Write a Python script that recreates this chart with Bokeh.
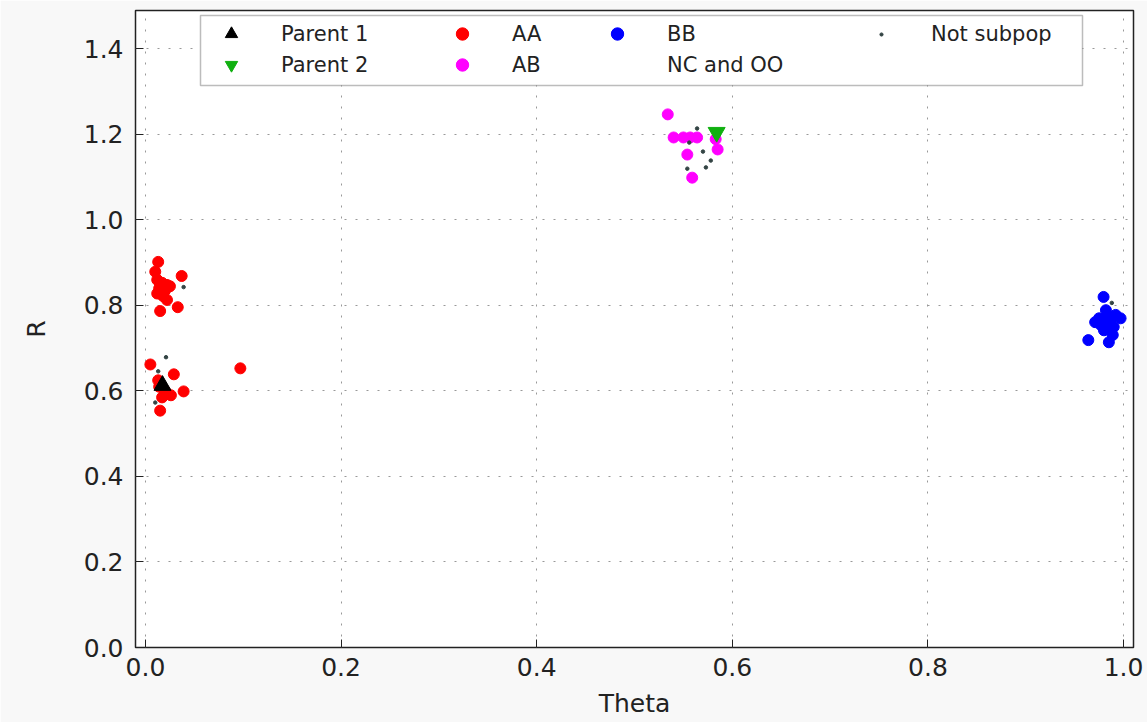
from bokeh.plotting import figure
from bokeh.models import (Legend, LegendItem, FixedTicker, PrintfTickFormatter,
                          Range1d, BoxAnnotation)
from bokeh.embed import file_html
from bokeh.resources import INLINE

# ---- data ----
parent1_theta = [0.0174]
parent1_r = [0.613]
parent2_theta = [0.584]
parent2_r = [1.205]

aa_theta = [0.013, 0.010, 0.037, 0.012, 0.017, 0.022, 0.014, 0.020, 0.012, 0.018, 0.022, 0.033, 0.015, 0.025,
            0.005, 0.097, 0.029, 0.013, 0.039, 0.026, 0.017, 0.015, 0.020, 0.014]
aa_r = [0.902, 0.879, 0.869, 0.860, 0.853, 0.848, 0.840, 0.835, 0.828, 0.822, 0.813, 0.796, 0.787, 0.845,
        0.662, 0.653, 0.639, 0.625, 0.599, 0.590, 0.585, 0.554, 0.600, 0.610]

ab_theta = [0.534, 0.540, 0.550, 0.557, 0.564, 0.583, 0.585, 0.554, 0.559]
ab_r = [1.247, 1.193, 1.193, 1.193, 1.193, 1.189, 1.165, 1.153, 1.099]

bb_theta = [0.9796, 0.964, 0.982, 0.987, 0.977, 0.992, 0.989, 0.985, 0.997, 0.971, 0.980, 0.985, 0.975, 0.990, 0.983]
bb_r = [0.820, 0.719, 0.789, 0.766, 0.754, 0.778, 0.731, 0.714, 0.770, 0.761, 0.742, 0.775, 0.770, 0.750, 0.757]

nc_theta = []
nc_r = []

ns_theta = [0.039, 0.021, 0.013, 0.010, 0.564, 0.556, 0.570, 0.578, 0.573, 0.554, 0.988]
ns_r = [0.843, 0.679, 0.646, 0.573, 1.214, 1.181, 1.160, 1.139, 1.123, 1.120, 0.806]

x_ticks = [0.0, 0.2, 0.4, 0.6, 0.8, 1.0]
y_ticks = [0.0, 0.2, 0.4, 0.6, 0.8, 1.0, 1.2, 1.4]

FONT = "DejaVu Sans"
INK = "#222222"

p = figure(width=1147, height=722, output_backend="svg", toolbar_location=None,
           x_range=Range1d(-0.0102, 1.0102), y_range=Range1d(0.0, 1.49),
           min_border_left=135, min_border_right=14, min_border_top=10, min_border_bottom=75)
p.border_fill_color = "#f8f8f8"
p.background_fill_color = "white"
p.outline_line_color = INK
p.outline_line_width = 1.5

for ax, ticks in ((p.xaxis[0], x_ticks), (p.yaxis[0], y_ticks)):
    ax.ticker = FixedTicker(ticks=ticks)
    ax.formatter = PrintfTickFormatter(format="%.1f")
    ax.major_tick_in = 8
    ax.major_tick_out = 0
    ax.minor_tick_line_color = None
    ax.axis_line_color = None
    ax.major_tick_line_color = INK
    ax.major_label_text_font = FONT
    ax.major_label_text_font_size = "25px"
    ax.major_label_text_color = INK
    ax.axis_label_text_font = FONT
    ax.axis_label_text_font_size = "25px"
    ax.axis_label_text_font_style = "normal"
    ax.axis_label_text_color = INK

p.xaxis.axis_label = "Theta"
p.yaxis.axis_label = "R"
p.xaxis.major_label_standoff = 10
p.xaxis.axis_label_standoff = 10
p.yaxis.major_label_standoff = 12
p.yaxis.axis_label_standoff = 30

p.xgrid.ticker = FixedTicker(ticks=x_ticks)
p.ygrid.ticker = FixedTicker(ticks=y_ticks)
p.grid.grid_line_color = "#999999"
p.grid.grid_line_dash = "2 9"
p.grid.grid_line_width = 1

r_aa = p.scatter(aa_theta, aa_r, marker="circle", size=11, fill_color="#ff0000", line_color="#ff0000")
r_ab = p.scatter(ab_theta, ab_r, marker="circle", size=11, fill_color="#ff00ff", line_color="#ff00ff")
r_bb = p.scatter(bb_theta, bb_r, marker="circle", size=11, fill_color="#0000ff", line_color="#0000ff")
r_nc = p.scatter(nc_theta, nc_r, marker="circle", size=6, fill_color="#eeeeee", line_color="#eeeeee")
r_p1 = p.scatter(parent1_theta, parent1_r, marker="triangle", size=17, fill_color="black", line_color="black")
r_p2 = p.scatter(parent2_theta, parent2_r, marker="inverted_triangle", size=17,
                 fill_color="#10b010", line_color="#10b010")
r_ns = p.scatter(ns_theta, ns_r, marker="circle", size=3.5, fill_color="#334444", line_color="#334444")

# legend frame
p.add_layout(BoxAnnotation(left=65, right=947, bottom=562, top=632,
                           left_units="screen", right_units="screen",
                           bottom_units="screen", top_units="screen",
                           fill_color="white", fill_alpha=1.0,
                           line_color=INK, line_width=1.5, level="annotation"))

columns = [
    (68, 567, 31, [("Parent 1", r_p1), ("Parent 2", r_p2)]),
    (299, 567, 31, [("AA", r_aa), ("AB", r_ab)]),
    (454, 567, 31, [("BB", r_bb), ("NC and OO", r_nc)]),
    (718, 601, 8, [("Not subpop", r_ns)]),
]
for x0, y0, gh, entries in columns:
    lg = Legend(items=[LegendItem(label=lab, renderers=[r]) for lab, r in entries],
                location=(x0, y0), orientation="vertical")
    lg.label_text_font = FONT
    lg.label_text_font_size = "21px"
    lg.label_text_color = INK
    lg.border_line_color = None
    lg.background_fill_alpha = 0.0
    lg.glyph_width = 56
    lg.glyph_height = gh
    lg.label_height = 25
    lg.label_standoff = 22
    lg.spacing = 0
    lg.padding = 0
    lg.margin = 0
    p.add_layout(lg)

open("out.html", "w").write(file_html(p, INLINE))
